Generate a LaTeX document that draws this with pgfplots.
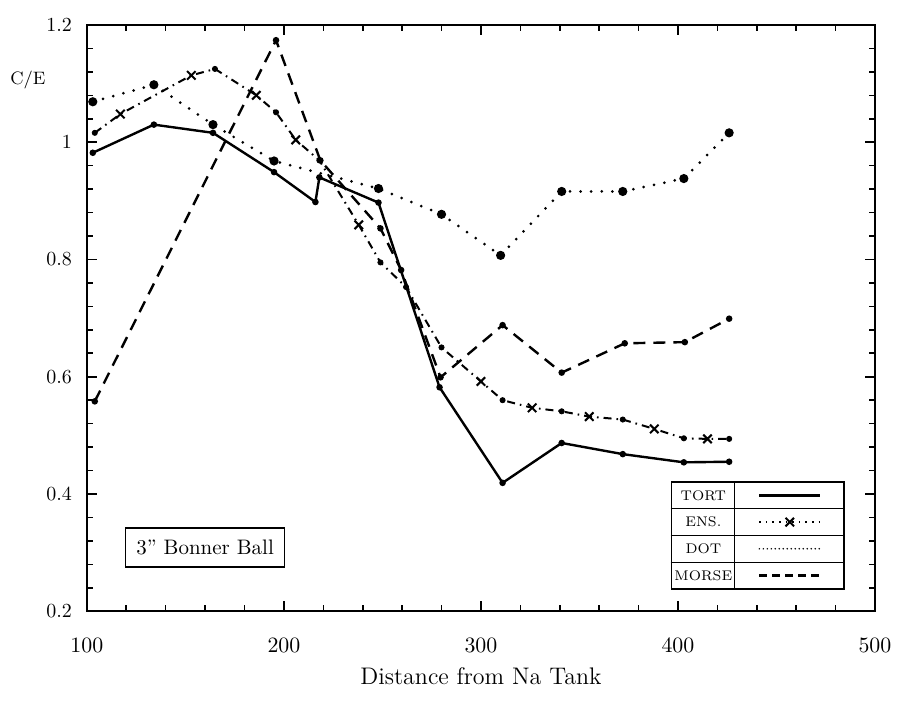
\documentclass[border=0pt]{standalone}
\usepackage{pgfplots}
\pgfplotsset{compat=1.18}
\usetikzlibrary{calc}

\begin{document}
\begin{tikzpicture}
\begin{axis}[
  scale only axis,
  width=394.5pt, height=293.5pt,
  xmin=100, xmax=500, ymin=0.2, ymax=1.2,
  xtick={100,200,300,400,500},
  ytick={0.2,0.4,0.6,0.8,1,1.2},
  minor tick num=4,
  tick align=inside, tick pos=both,
  major tick length=5pt, minor tick length=3pt,
  every tick/.style={black, line width=0.8pt},
  axis line style={line width=1pt},
  xticklabel style={font=\fontsize{11}{13}\selectfont, yshift=-10pt},
  yticklabel style={font=\fontsize{10}{12}\selectfont, xshift=-4pt},
  xlabel={Distance from Na Tank},
  xlabel style={font=\fontsize{12}{14}\selectfont, at={(axis description cs:0.5,-0.1107)}, anchor=center},
  ylabel={C/E},
  ylabel style={font=\fontsize{9}{11}\selectfont, at={(axis description cs:-0.0748,0.906)}, rotate=-90, anchor=center},
  legend plot pos=right,
  legend style={at={(rel axis cs:0.962,0.037)}, anchor=south east, name=leg,
    draw=black, line width=0.8pt, fill=white, inner sep=0pt, row sep=0pt, column sep=0pt,
    nodes={font=\fontsize{7}{8}\selectfont, text width=32pt, align=center,
      minimum height=13.35pt, text height=4.8pt, text depth=0pt, inner sep=0pt}},
  legend image code/.code={
    \path[draw=none, fill=none] (0pt,-6.675pt) rectangle (54.5pt,6.675pt);
    \draw[mark repeat=2, mark phase=2, #1] plot coordinates {(12pt,0pt) (27.25pt,0pt) (42.5pt,0pt)};
  },
]

% TORT
\addplot[black, line width=1.2pt, mark=*, mark size=1pt, legend image post style={mark=none}]
  coordinates {(103,0.982) (134,1.030) (164,1.016) (195,0.949) (216,0.898) (218,0.940)
    (248,0.897) (279,0.582) (311,0.419) (341,0.487) (372,0.468) (403,0.454) (426,0.455)};
\addlegendentry{TORT}

% ENS.
\addplot[black, line width=1pt, dash pattern=on 4pt off 2.5pt on 0.8pt off 2.5pt,
    legend image post style={mark=x, mark size=3pt, mark options={solid}, dash pattern=on 0.8pt off 2.5pt}]
  coordinates {(104,1.016) (117,1.048) (153,1.114) (165,1.125) (186,1.080) (196,1.051)
    (206,1.004) (218,0.969) (238,0.859) (249,0.795) (262,0.753) (280,0.650) (300,0.592)
    (311,0.560) (326,0.547) (341,0.541) (355,0.532) (372,0.527) (388,0.511) (403,0.495)
    (415,0.494) (426,0.494)};
\addlegendentry{ENS.}
\addplot[only marks, black, mark=*, mark size=1.3pt, forget plot]
  coordinates {(104,1.016) (165,1.125) (196,1.051) (218,0.969) (249,0.795) (262,0.753)
    (280,0.650) (311,0.560) (341,0.541) (372,0.527) (403,0.495) (426,0.494)};
\addplot[only marks, black, mark=x, mark size=3pt, line width=1pt, forget plot]
  coordinates {(117,1.048) (153,1.114) (186,1.080) (206,1.004) (238,0.859) (300,0.592)
    (326,0.547) (355,0.532) (388,0.511) (415,0.494)};

% DOT
\addplot[black, line width=1.5pt, line cap=round, dash pattern=on 0pt off 5.3pt,
    mark=*, mark size=1.5pt, mark options={solid},
    legend image post style={mark=none, line width=0.8pt, dash pattern=on 0pt off 2pt}]
  coordinates {(103,1.069) (134,1.098) (164,1.030) (195,0.968) (248,0.921) (280,0.877)
    (310,0.807) (341,0.916) (372,0.916) (403,0.938) (426,1.016)};
\addlegendentry{DOT}

% MORSE
\addplot[black, line width=1.2pt, dash pattern=on 6pt off 4pt,
    mark=*, mark size=1pt, mark options={solid},
    legend image post style={mark=none, dash pattern=on 4pt off 2.5pt}]
  coordinates {(104,0.558) (196,1.174) (218.5,0.969) (249,0.853) (259.5,0.782) (279.5,0.599)
    (311,0.688) (341,0.607) (373,0.657) (403.5,0.659) (426,0.699)};
\addlegendentry{MORSE}

\node[draw, line width=0.8pt, minimum width=79.5pt, minimum height=19.5pt, inner sep=2pt,
  font=\fontsize{10.5}{12}\selectfont] at (axis cs:160,0.309) {3'' Bonner Ball};
\end{axis}

% grid of the legend table
\foreach \f in {0.25,0.5,0.75}
  \draw[line width=0.8pt] ($(leg.north west)!\f!(leg.south west)$) -- ($(leg.north east)!\f!(leg.south east)$);
\draw[line width=0.8pt] ([xshift=32pt]leg.north west) -- ([xshift=32pt]leg.south west);

\path ([shift={(-43.5pt,-46pt)}]current axis.south west) rectangle ([shift={(11pt,12.5pt)}]current axis.north east);
\end{tikzpicture}
\end{document}
